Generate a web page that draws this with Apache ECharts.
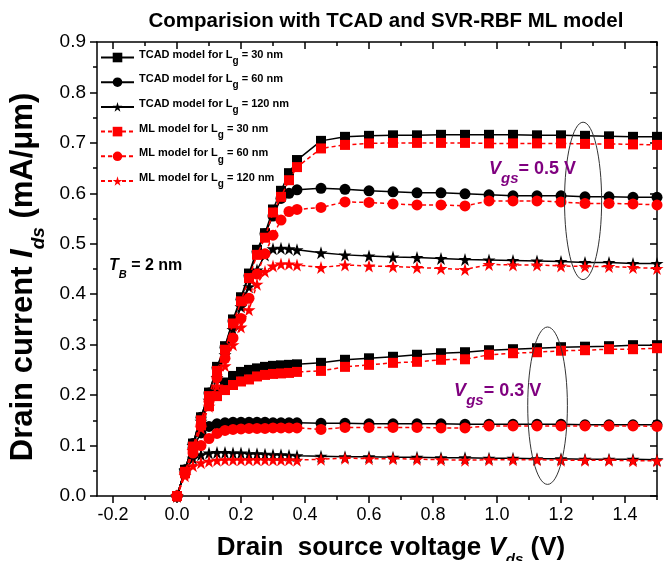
<!DOCTYPE html>
<html>
<head>
<meta charset="utf-8">
<script src="https://cdn.jsdelivr.net/npm/echarts@6/dist/echarts.min.js"></script>
<style>html,body{margin:0;padding:0;background:#fff}#c{width:664px;height:561px}</style>
</head>
<body>
<div id="c"></div>
<script>
// ---------- data ----------
const vds = [0, 0.025, 0.05, 0.075, 0.1, 0.125, 0.15, 0.175, 0.2, 0.225, 0.25, 0.275, 0.3, 0.325, 0.35, 0.375,
  0.45, 0.525, 0.6, 0.675, 0.75, 0.825, 0.9, 0.975, 1.05, 1.125, 1.2, 1.275, 1.35, 1.425, 1.5];

// Vgs = 0.5 V
const tcad30_v05 = [0, .052, .104, .156, .205, .256, .297, .350, .394, .441, .488, .521, .568, .605, .640, .666,
  .704, .712, .714, .715, .715, .716, .716, .716, .716, .715, .715, .714, .713, .712, .712];
const ml30_v05 = [0, .048, .098, .150, .198, .248, .290, .342, .386, .432, .478, .512, .562, .593, .626, .652,
  .689, .696, .699, .700, .700, .700, .700, .699, .699, .699, .699, .698, .698, .697, .696];
const tcad60_v05 = [0, .052, .104, .156, .204, .254, .295, .347, .390, .437, .484, .520, .555, .590, .600, .607,
  .610, .608, .605, .603, .601, .601, .599, .597, .595, .595, .595, .593, .593, .592, .592];
const ml60_v05 = [0, .045, .092, .140, .188, .235, .273, .313, .352, .392, .440, .480, .517, .547, .564, .568,
  .572, .583, .582, .579, .577, .577, .575, .585, .585, .585, .583, .580, .580, .579, .577];
const tcad120_v05 = [0, .052, .100, .148, .190, .235, .280, .330, .375, .415, .448, .478, .490, .491, .490, .488,
  .482, .478, .476, .474, .473, .471, .469, .468, .467, .466, .465, .463, .463, .461, .461];
const ml120_v05 = [0, .045, .090, .135, .178, .218, .258, .300, .335, .369, .420, .445, .456, .460, .460, .458,
  .453, .458, .456, .455, .453, .451, .449, .459, .458, .458, .456, .455, .455, .453, .451];

// Vgs = 0.3 V
const tcad30_v03 = [0, .050, .100, .150, .185, .210, .225, .238, .246, .250, .253, .256, .258, .259, .260, .261,
  .264, .270, .273, .276, .280, .283, .285, .289, .291, .293, .295, .296, .297, .299, .299];
const ml30_v03 = [0, .045, .090, .140, .178, .198, .210, .220, .227, .231, .237, .240, .242, .243, .244, .246,
  .248, .256, .260, .264, .266, .270, .271, .280, .283, .285, .288, .289, .291, .291, .293];
const tcad60_v03 = [0, .050, .095, .125, .138, .143, .145, .146, .146, .146, .146, .146, .145, .145, .145, .145,
  .144, .144, .143, .143, .143, .143, .142, .142, .142, .142, .142, .141, .141, .141, .141];
const ml60_v03 = [0, .045, .085, .100, .114, .124, .130, .132, .133, .134, .134, .134, .135, .135, .135, .135,
  .132, .136, .136, .136, .136, .135, .135, .139, .139, .139, .139, .139, .139, .139, .138];
const tcad120_v03 = [0, .050, .075, .082, .085, .086, .086, .085, .085, .084, .084, .083, .082, .082, .081, .080,
  .079, .078, .078, .077, .077, .076, .076, .075, .075, .074, .074, .073, .073, .073, .072];
const ml120_v03 = [0, .040, .060, .066, .069, .071, .072, .072, .072, .072, .072, .072, .072, .072, .072, .071,
  .073, .075, .074, .074, .073, .072, .071, .072, .072, .072, .071, .071, .071, .070, .070];

const xMajorTicks = [-0.2, 0, 0.2, 0.4, 0.6, 0.8, 1.0, 1.2, 1.4];
const xMinorTicks = [-0.1, 0.1, 0.3, 0.5, 0.7, 0.9, 1.1, 1.3, 1.5];

const legendNames = [
  'TCAD model for Lg = 30 nm', 'TCAD model for Lg = 60 nm', 'TCAD model for Lg = 120 nm',
  'ML model for Lg = 30 nm', 'ML model for Lg = 60 nm', 'ML model for Lg = 120 nm'
];

// annotation anchors (data coords)
const noteTB = [-0.2125, 0.45];
const noteV05 = [0.975, 0.64];
const noteV03 = [0.866, 0.2];
const ellipse1 = {c: [1.269, 0.585], rx: 0.058, ry: 0.156};
const ellipse2 = {c: [1.158, 0.179], rx: 0.062, ry: 0.156};

// ---------- chart ----------
const FONT = 'Arial, "Liberation Sans", sans-serif';
const STAR = 'path://M50,0 L61,35 L98,35 L68,57 L79,91 L50,70 L21,91 L32,57 L2,35 L39,35 Z';
const pts = arr => vds.map((x, i) => [x, arr[i]]);

function mkSeries(name, arr, isML, symbol, size) {
  const color = isML ? '#ff0000' : '#000000';
  return {
    type: 'line', name, data: pts(arr), xAxisIndex: 0, yAxisIndex: 0,
    symbol, symbolSize: size, showSymbol: true, animation: false,
    itemStyle: {color, borderWidth: 0},
    lineStyle: {color, width: 1.5, type: isML ? [4, 3] : 'solid'},
    z: isML ? 3 : 2, emphasis: {disabled: true}
  };
}

const series = [
  mkSeries(legendNames[0], tcad30_v05, false, 'rect', 10),
  mkSeries(legendNames[1], tcad60_v05, false, 'circle', 11),
  mkSeries(legendNames[2], tcad120_v05, false, STAR, 13),
  mkSeries(legendNames[0], tcad30_v03, false, 'rect', 10),
  mkSeries(legendNames[1], tcad60_v03, false, 'circle', 11),
  mkSeries(legendNames[2], tcad120_v03, false, STAR, 13),
  mkSeries(legendNames[3], ml30_v05, true, 'rect', 10),
  mkSeries(legendNames[4], ml60_v05, true, 'circle', 11),
  mkSeries(legendNames[5], ml120_v05, true, STAR, 13),
  mkSeries(legendNames[3], ml30_v03, true, 'rect', 10),
  mkSeries(legendNames[4], ml60_v03, true, 'circle', 11),
  mkSeries(legendNames[5], ml120_v03, true, STAR, 13)
];

const axLine = {show: true, onZero: false, lineStyle: {color: '#000', width: 1.5}};
const fmt1 = v => (Math.abs(v) < 1e-9 ? 0 : v).toFixed(1);

function nameRich(size, subSize, subLH) {
  const base = {fontWeight: 'bold', color: '#000', fontFamily: FONT};
  return {
    b: Object.assign({fontSize: size, lineHeight: size + 4, verticalAlign: 'top'}, base),
    i: Object.assign({fontSize: size, fontStyle: 'italic', lineHeight: size + 4, verticalAlign: 'top'}, base),
    s: Object.assign({fontSize: subSize, fontStyle: 'italic', lineHeight: subLH, verticalAlign: 'bottom'}, base)
  };
}

const option = {
  animation: false,
  backgroundColor: '#fff',
  textStyle: {fontFamily: FONT},
  title: {
    text: 'Comparision with TCAD and SVR-RBF ML model',
    left: 381, top: 6, textAlign: 'center',
    textStyle: {fontFamily: FONT, fontSize: 20.5, fontWeight: 'bold', color: '#000'}
  },
  grid: {left: 97, right: 7, top: 42, bottom: 65, containLabel: false, outerBoundsMode: 'none'},
  legend: {
    data: legendNames, orient: 'vertical', left: 100, top: 49, padding: 0,
    itemWidth: 33, itemHeight: 12, itemGap: 7.7, selectedMode: false,
    formatter: name => {
      const m = name.match(/^(.*) for Lg = (\d+) nm$/);
      return '{n|' + m[1] + ' for L}{s|g}{n| = ' + m[2] + ' nm}';
    },
    textStyle: {
      fontFamily: FONT, color: '#000',
      rich: {
        n: {fontSize: 11, fontWeight: 'bold', lineHeight: 13, verticalAlign: 'top', fontFamily: FONT, color: '#000'},
        s: {fontSize: 10, fontWeight: 'bold', lineHeight: 17, verticalAlign: 'bottom', fontFamily: FONT, color: '#000'}
      }
    }
  },
  xAxis: [
    {
      type: 'value', position: 'bottom', min: -0.25, max: 1.5,
      axisLine: axLine,
      axisTick: {show: true, customValues: xMajorTicks, length: 7, lineStyle: {color: '#000', width: 1.5}},
      axisLabel: {show: true, customValues: xMajorTicks, formatter: fmt1, fontSize: 18, color: '#000', fontFamily: FONT, margin: 10},
      splitLine: {show: false},
      name: '{b|Drain  source voltage }{i|V}{s|ds}{b| (V)}',
      nameLocation: 'middle', nameGap: 39,
      nameTextStyle: {rich: nameRich(26, 15, 32), padding: [0, 0, 0, 28]}
    },
    {
      type: 'value', position: 'bottom', min: -0.25, max: 1.5,
      axisLine: {show: false, onZero: false},
      axisTick: {show: true, customValues: xMinorTicks, length: 4, lineStyle: {color: '#000', width: 1.5}},
      axisLabel: {show: false}, splitLine: {show: false}
    },
    {
      type: 'value', position: 'top', min: -0.25, max: 1.5,
      axisLine: axLine,
      axisTick: {show: true, inside: true, customValues: xMajorTicks, length: 7, lineStyle: {color: '#000', width: 1.5}},
      axisLabel: {show: false}, splitLine: {show: false}
    },
    {
      type: 'value', position: 'top', min: -0.25, max: 1.5,
      axisLine: {show: false, onZero: false},
      axisTick: {show: true, inside: true, customValues: xMinorTicks, length: 4, lineStyle: {color: '#000', width: 1.5}},
      axisLabel: {show: false}, splitLine: {show: false}
    }
  ],
  yAxis: [
    {
      type: 'value', position: 'left', min: 0, max: 0.9, interval: 0.1,
      axisLine: axLine,
      axisTick: {show: true, length: 7, lineStyle: {color: '#000', width: 1.5}},
      minorTick: {show: true, splitNumber: 2, length: 4, lineStyle: {color: '#000', width: 1.5}},
      axisLabel: {formatter: fmt1, fontSize: 19, color: '#000', fontFamily: FONT, margin: 11},
      splitLine: {show: false}, minorSplitLine: {show: false},
      name: '{b|Drain current }{i|I}{s|ds}{b| (mA/μm)}',
      nameLocation: 'middle', nameGap: 42, nameRotate: 90,
      nameTextStyle: {rich: nameRich(31, 19, 41), padding: [0, 16, 0, 0]}
    },
    {
      type: 'value', position: 'right', min: 0, max: 0.9, interval: 0.1,
      axisLine: axLine,
      axisTick: {show: true, inside: true, length: 7, lineStyle: {color: '#000', width: 1.5}},
      minorTick: {show: true, splitNumber: 2, length: 4, lineStyle: {color: '#000', width: 1.5}},
      axisLabel: {show: false}, splitLine: {show: false}, minorSplitLine: {show: false}
    }
  ],
  series
};

const chart = echarts.init(document.getElementById('c'), null, {renderer: 'canvas'});
chart.setOption(option);

const toPx = p => chart.convertToPixel({xAxisIndex: 0, yAxisIndex: 0}, p);
function ellipseGraphic(e) {
  const c = toPx(e.c);
  const ex = toPx([e.c[0] + e.rx, e.c[1]]);
  const ey = toPx([e.c[0], e.c[1] + e.ry]);
  return {
    type: 'ellipse', z: 10,
    shape: {cx: c[0], cy: c[1], rx: Math.abs(ex[0] - c[0]), ry: Math.abs(ey[1] - c[1])},
    style: {fill: 'none', stroke: '#333', lineWidth: 1}
  };
}
function vgsText(anchor, val) {
  const p = toPx(anchor);
  const base = {fontWeight: 'bold', fill: '#7f007f', fontFamily: FONT};
  return {
    type: 'text', z: 10, x: p[0], y: p[1],
    style: {
      text: '{v|V}{s|gs}{b|= ' + val + ' V}',
      verticalAlign: 'middle', align: 'left',
      rich: {
        v: Object.assign({fontSize: 18, fontStyle: 'italic', lineHeight: 20, verticalAlign: 'top'}, base),
        s: Object.assign({fontSize: 15, fontStyle: 'italic', lineHeight: 26, verticalAlign: 'bottom'}, base),
        b: Object.assign({fontSize: 18, lineHeight: 20, verticalAlign: 'top'}, base)
      }
    }
  };
}
const tb = toPx(noteTB);
const tbBase = {fontWeight: 'bold', fill: '#000', fontFamily: FONT};
chart.setOption({
  graphic: [
    ellipseGraphic(ellipse1),
    ellipseGraphic(ellipse2),
    vgsText(noteV05, '0.5'),
    vgsText(noteV03, '0.3'),
    {
      type: 'text', z: 10, x: tb[0], y: tb[1],
      style: {
        text: '{t|T}{s|B}{b| = 2 nm}', verticalAlign: 'middle', align: 'left',
        rich: {
          t: Object.assign({fontSize: 16, fontStyle: 'italic', lineHeight: 18, verticalAlign: 'top'}, tbBase),
          s: Object.assign({fontSize: 11, fontStyle: 'italic', lineHeight: 22, verticalAlign: 'bottom'}, tbBase),
          b: Object.assign({fontSize: 16, lineHeight: 18, verticalAlign: 'top'}, tbBase)
        }
      }
    }
  ]
});
</script>
</body>
</html>
